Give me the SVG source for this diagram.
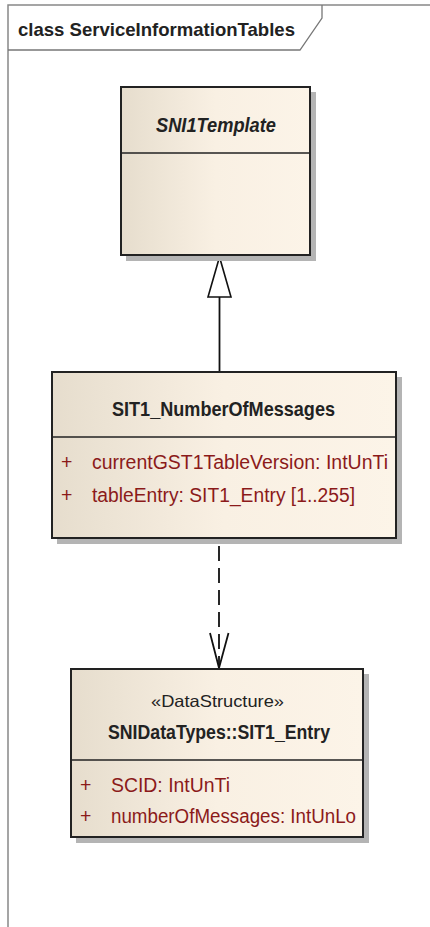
<svg xmlns="http://www.w3.org/2000/svg" width="430" height="927" viewBox="0 0 430 927">
<defs>
<linearGradient id="g" x1="0" y1="0" x2="1" y2="0">
<stop offset="0" stop-color="#e6ddcd"/>
<stop offset="0.5" stop-color="#f9f0e3"/>
<stop offset="1" stop-color="#fcf4e8"/>
</linearGradient>
</defs>
<style>
.box{fill:url(#g);stroke:#222;stroke-width:2}
.sh{fill:#b4b4b4}
.div{stroke:#222;stroke-width:1.5}
.t{font-family:"Liberation Sans",Arial,sans-serif;fill:#222}
.b{font-weight:bold;font-size:21px}
.a{font-family:"Liberation Sans",Arial,sans-serif;fill:#8b1a1a;font-size:19.5px}
.ln{stroke:#111;stroke-width:1.8;fill:none}
</style>
<g id="frame">
<path d="M8,927 V5 H430" fill="none" stroke="#888" stroke-width="1.5"/>
<path d="M8,50 H300 L322,18 V5" fill="none" stroke="#777" stroke-width="1.3"/>
<text class="t" x="18" y="36" font-size="19" font-weight="bold" textLength="277" lengthAdjust="spacingAndGlyphs">class ServiceInformationTables</text>
</g>
<g id="connectors">
<line class="ln" x1="219.5" y1="372" x2="219.5" y2="297"/>
<polygon points="219.5,257 208,297 231,297" fill="#fff" stroke="#111" stroke-width="1.6"/>
<line class="ln" x1="219" y1="546" x2="219" y2="667" stroke-dasharray="15,7"/>
<path class="ln" d="M210,633 L219,668 L228.5,633"/>
</g>
<g id="SNI1Template">
<rect class="sh" x="126" y="92" width="190" height="169"/>
<rect class="box" x="121" y="87" width="189" height="168"/>
<line class="div" x1="121" y1="153" x2="310" y2="153"/>
<text class="t b" x="156" y="132" font-style="italic" textLength="120" lengthAdjust="spacingAndGlyphs">SNI1Template</text>
</g>
<g id="SIT1_NumberOfMessages">
<rect class="sh" x="57" y="377" width="345" height="167"/>
<rect class="box" x="52" y="372" width="344" height="166"/>
<line class="div" x1="52" y1="437" x2="396" y2="437"/>
<text class="t b" x="112" y="416" textLength="223" lengthAdjust="spacingAndGlyphs">SIT1_NumberOfMessages</text>
<text class="a" x="61" y="469">+</text>
<text class="a" x="92" y="469" textLength="296" lengthAdjust="spacingAndGlyphs">currentGST1TableVersion:  IntUnTi</text>
<text class="a" x="61" y="502">+</text>
<text class="a" x="92" y="502" textLength="263" lengthAdjust="spacingAndGlyphs">tableEntry:  SIT1_Entry [1..255]</text>
</g>
<g id="SIT1_Entry">
<rect class="sh" x="76" y="674" width="293" height="169"/>
<rect class="box" x="71" y="669" width="292" height="168"/>
<line class="div" x1="71" y1="760" x2="363" y2="760"/>
<text class="t" x="151" y="707" font-size="16.5" textLength="133" lengthAdjust="spacingAndGlyphs">«DataStructure»</text>
<text class="t b" x="108" y="739" textLength="222" lengthAdjust="spacingAndGlyphs">SNIDataTypes::SIT1_Entry</text>
<text class="a" x="80" y="792">+</text>
<text class="a" x="111" y="792" textLength="119" lengthAdjust="spacingAndGlyphs">SCID:  IntUnTi</text>
<text class="a" x="80" y="823">+</text>
<text class="a" x="111" y="823" textLength="245" lengthAdjust="spacingAndGlyphs">numberOfMessages:  IntUnLo</text>
</g>
</svg>
